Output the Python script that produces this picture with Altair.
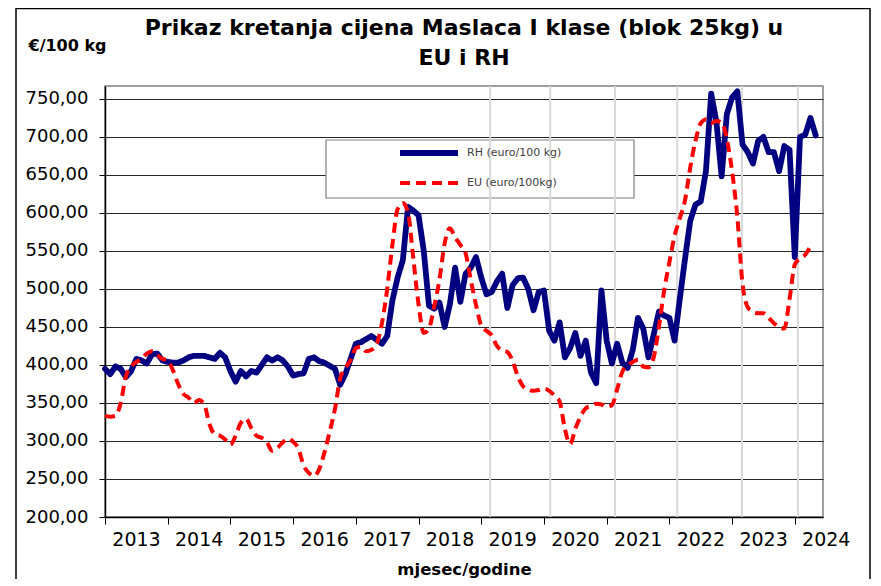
import altair as alt
import pandas as pd

# ---- data (monthly from Jan 2013) ----
YEAR_START = 2013
YEAR_TICKS_MONTH = [0, 12, 24, 36, 48, 60, 72, 84, 96, 108, 120, 132]
Y_TICKS = [200, 250, 300, 350, 400, 450, 500, 550, 600, 650, 700, 750]
GRID_MONTHS = [73.7, 85.2, 97.6, 109.5, 121.9, 132.6]

RH_NAME = "RH (euro/100 kg)"
EU_NAME = "EU (euro/100kg)"

RH = [395, 388, 398, 395, 384, 392, 408, 406, 402, 414, 415, 406,
      404, 403, 403, 406, 410, 412, 412, 412, 410, 408, 416, 410,
      392, 378, 392, 385, 392, 390, 400, 410, 406, 410, 406, 398,
      386, 388, 389, 408, 410, 405, 403, 399, 395, 374, 388, 408,
      428, 430, 434, 438, 433, 428, 438, 485, 515, 538, 608, 603,
      597, 550, 478, 474, 482, 450, 480, 528, 483, 520, 528, 542,
      515, 493, 496, 510, 520, 475, 505, 514, 515, 500, 472, 496,
      498, 445, 432, 456, 410, 422, 442, 412, 432, 390, 376, 498,
      432, 402, 428, 403, 396, 420, 462, 448, 410, 440, 470, 465,
      462, 432, 487, 540, 590, 611, 615, 655, 757, 720, 648, 730,
      752, 760, 690, 680, 665, 695, 700, 680, 680, 655, 688, 683,
      542, 700, 703, 725, 702]

EU = [333, 332, 333, 350, 385, 398, 404, 408, 415, 418, 413, 408,
      406, 393, 375, 362, 357, 350, 354, 348, 322, 309, 307, 302,
      295, 307, 324, 329, 317, 307, 304, 298, 287, 291, 298, 303,
      299, 290, 268, 258, 254, 263, 285, 312, 342, 382, 396, 406,
      422, 424, 418, 420, 428, 455, 500, 558, 605, 613, 600, 540,
      480, 442, 448, 477, 512, 560, 580, 568, 558, 547, 512, 479,
      452, 445, 439, 425, 419, 417, 405, 385, 372, 368, 366, 367,
      369, 366, 360, 352, 316, 296, 316, 332, 343, 346, 349, 348,
      345, 347, 368, 391, 399, 404, 407, 398, 397, 410, 450, 498,
      535, 570, 593, 617, 660, 695, 718, 723, 718, 721, 719, 697,
      655, 595, 507, 476, 470, 468, 468, 462, 455, 450, 448, 487,
      532, 540, 545, 556]

rows = [{"m": i, "v": v, "s": RH_NAME} for i, v in enumerate(RH)]
rows += [{"m": i, "v": v, "s": EU_NAME} for i, v in enumerate(EU)]
df = pd.DataFrame(rows)

FONT = "DejaVu Sans"

x_scale = alt.Scale(domain=[0, 137.4], nice=False, zero=False)
y_scale = alt.Scale(domain=[200, 767], nice=False, zero=False)
color_scale = alt.Scale(domain=[RH_NAME, EU_NAME], range=["#000080", "#ff0000"])
dash_scale = alt.Scale(domain=[RH_NAME, EU_NAME], range=[[1, 0], [10, 6]])
width_scale = alt.Scale(domain=[RH_NAME, EU_NAME], range=[5.8, 4])

x_axis = alt.Axis(
    values=YEAR_TICKS_MONTH,
    labelExpr=f"toString({YEAR_START} + round(datum.value / 12))",
    labelOffset=31, labelFontSize=19, labelFont=FONT, labelColor="#000",
    labelPadding=6, labelFlush=False, labelOverlap=False, labelBound=False,
    tickSize=7, tickColor="#000", domainColor="#000",
    domainWidth=1.5, grid=False, title="mjesec/godine", titleFont=FONT,
    titleFontSize=16.5, titleFontWeight="bold", titlePadding=12, titleColor="#000",
)
y_axis = alt.Axis(
    values=Y_TICKS,
    labelExpr="replace(format(datum.value, '.2f'), '.', ',')",
    labelFontSize=18, labelFont=FONT, labelColor="#000", labelPadding=11,
    labelFlush=False, labelOverlap=False,
    tickSize=6, tickColor="#000", domainColor="#000", domainWidth=1.5,
    grid=True, gridColor="#262626", gridWidth=1,
    title="€/100 kg", titleAngle=0, titleAlign="left", titleBaseline="middle",
    titleX=-77, titleY=-41, titleFont=FONT, titleFontSize=16,
    titleFontWeight="bold", titleColor="#000",
)

legend = alt.Legend(
    title=None, orient="none", legendX=221, legendY=52, padding=0,
    symbolType="stroke", symbolSize=3364, symbolStrokeWidth=3, clipHeight=30,
    symbolOffset=71, labelOffset=6, labelFont=FONT, labelFontSize=11,
    labelColor="#404040", rowPadding=0,
)

base = alt.Chart(df).encode(
    x=alt.X("m:Q", scale=x_scale, axis=x_axis),
    y=alt.Y("v:Q", scale=y_scale, axis=y_axis),
    color=alt.Color("s:N", scale=color_scale, legend=legend),
    strokeDash=alt.StrokeDash("s:N", scale=dash_scale, legend=legend),
    strokeWidth=alt.StrokeWidth("s:N", scale=width_scale, legend=None),
)

rh_line = base.transform_filter(alt.datum.s == RH_NAME).mark_line(
    strokeCap="round", strokeJoin="round")
eu_line = base.transform_filter(alt.datum.s == EU_NAME).mark_line(
    interpolate="monotone", strokeCap="butt", strokeJoin="round")

one = pd.DataFrame({"a": [0]})

# legend box (white, covers the horizontal grid; vertical grid drawn over it)
legend_box = alt.Chart(one).mark_rect(
    fill="#ffffff", stroke="#7f7f7f", strokeWidth=1.2).encode(
    x=alt.value(221), x2=alt.value(529), y=alt.value(54), y2=alt.value(112))

vgrid = alt.Chart(pd.DataFrame({"m": GRID_MONTHS})).mark_rule(
    color="#d9d9d9", strokeWidth=2).encode(
    x=alt.X("m:Q", scale=x_scale, axis=x_axis))

frame = alt.Chart(one).mark_rect(
    fill=None, stroke="#000", strokeWidth=1.5).encode(
    x=alt.value(-89), x2=alt.value(765), y=alt.value(-77.5), y2=alt.value(500))

chart = alt.layer(legend_box, vgrid, rh_line, eu_line, frame).properties(
    width=718, height=431,
    title=alt.TitleParams(
        ["Prikaz kretanja cijena Maslaca I klase (blok 25kg) u", "EU i RH"],
        font=FONT, fontSize=22, fontWeight="bold", color="#000",
        anchor="middle", lineHeight=30, offset=0, dy=62,
    ),
    autosize=alt.AutoSizeParams(type="none"),
    padding={"left": 97, "top": 78, "right": 50, "bottom": 62},
).configure_view(stroke="#7f7f7f", strokeWidth=1.5)

chart.save("out.html", embed_options={"renderer": "svg", "actions": False})
